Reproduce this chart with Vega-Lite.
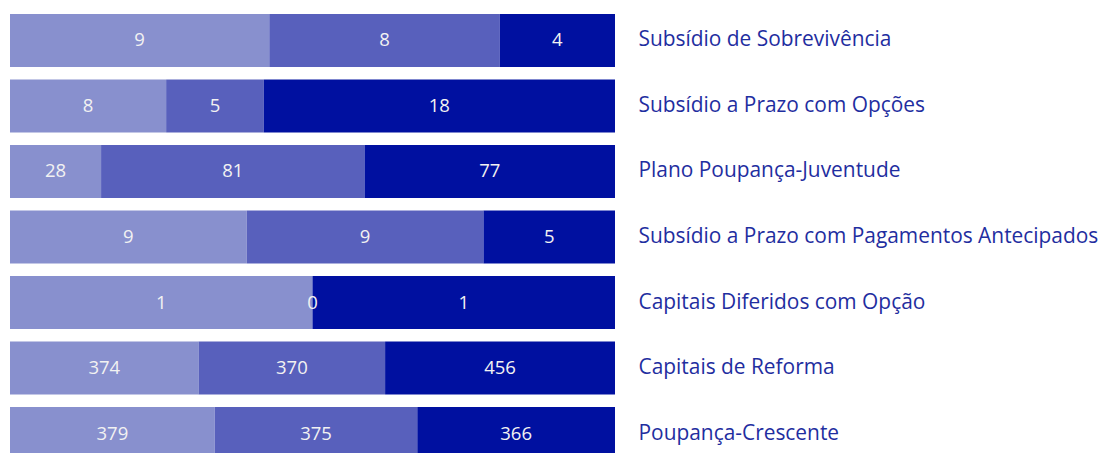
{
  "$schema": "https://vega.github.io/schema/vega-lite/v6.json",
  "width": 605,
  "height": 474,
  "padding": {"left": 10, "top": 0, "right": 0, "bottom": 0},
  "background": "white",
  "config": {"view": {"stroke": null}},
  "data": {
    "values": [
      {"product": "Subsídio de Sobrevivência", "group": "A", "order": 1, "value": 9},
      {"product": "Subsídio de Sobrevivência", "group": "B", "order": 2, "value": 8},
      {"product": "Subsídio de Sobrevivência", "group": "C", "order": 3, "value": 4},
      {"product": "Subsídio a Prazo com Opções", "group": "A", "order": 1, "value": 8},
      {"product": "Subsídio a Prazo com Opções", "group": "B", "order": 2, "value": 5},
      {"product": "Subsídio a Prazo com Opções", "group": "C", "order": 3, "value": 18},
      {"product": "Plano Poupança-Juventude", "group": "A", "order": 1, "value": 28},
      {"product": "Plano Poupança-Juventude", "group": "B", "order": 2, "value": 81},
      {"product": "Plano Poupança-Juventude", "group": "C", "order": 3, "value": 77},
      {"product": "Subsídio a Prazo com Pagamentos Antecipados", "group": "A", "order": 1, "value": 9},
      {"product": "Subsídio a Prazo com Pagamentos Antecipados", "group": "B", "order": 2, "value": 9},
      {"product": "Subsídio a Prazo com Pagamentos Antecipados", "group": "C", "order": 3, "value": 5},
      {"product": "Capitais Diferidos com Opção", "group": "A", "order": 1, "value": 1},
      {"product": "Capitais Diferidos com Opção", "group": "B", "order": 2, "value": 0},
      {"product": "Capitais Diferidos com Opção", "group": "C", "order": 3, "value": 1},
      {"product": "Capitais de Reforma", "group": "A", "order": 1, "value": 374},
      {"product": "Capitais de Reforma", "group": "B", "order": 2, "value": 370},
      {"product": "Capitais de Reforma", "group": "C", "order": 3, "value": 456},
      {"product": "Poupança-Crescente", "group": "A", "order": 1, "value": 379},
      {"product": "Poupança-Crescente", "group": "B", "order": 2, "value": 375},
      {"product": "Poupança-Crescente", "group": "C", "order": 3, "value": 366}
    ]
  },
  "transform": [
    {"stack": "value", "groupby": ["product"], "sort": [{"field": "order", "order": "ascending"}], "offset": "normalize", "as": ["v0", "v1"]},
    {"calculate": "(datum.v0 + datum.v1) / 2", "as": "mid"}
  ],
  "encoding": {
    "y": {
      "field": "product",
      "type": "nominal",
      "sort": null,
      "scale": {"paddingInner": 0.191, "paddingOuter": 0.2137},
      "axis": {
        "orient": "right",
        "title": null,
        "ticks": false,
        "domain": false,
        "labelPadding": 23,
        "labelFont": "Open Sans",
        "labelFontSize": 20.9,
        "labelColor": "#1F2EA0",
        "labelLimit": 600
      }
    }
  },
  "layer": [
    {
      "mark": {"type": "bar"},
      "encoding": {
        "x": {"field": "v0", "type": "quantitative", "scale": {"domain": [0, 1], "nice": false}, "axis": null},
        "x2": {"field": "v1"},
        "color": {
          "field": "group",
          "type": "nominal",
          "scale": {"domain": ["A", "B", "C"], "range": ["#8890CE", "#5860BC", "#0010A0"]},
          "legend": null
        }
      }
    },
    {
      "mark": {"type": "text", "font": "Open Sans", "fontSize": 18.5, "color": "#F2F2F2", "align": "center", "baseline": "middle"},
      "encoding": {
        "x": {"field": "mid", "type": "quantitative"},
        "text": {"field": "value", "type": "quantitative"}
      }
    }
  ]
}
